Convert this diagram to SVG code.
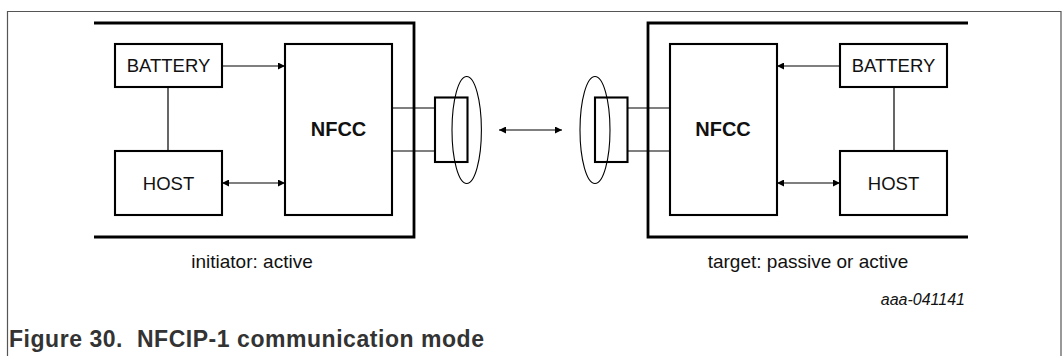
<svg xmlns="http://www.w3.org/2000/svg" width="1064" height="356" viewBox="0 0 1064 356">
<defs>
<marker id="ah" viewBox="0 0 10 10" refX="10" refY="5" markerWidth="9" markerHeight="7" markerUnits="userSpaceOnUse" orient="auto-start-reverse">
<path d="M0,0 L10,5 L0,10 z" fill="#000"/>
</marker>
<style>
.box{fill:#fff;stroke:#000;stroke-width:2.1}
.br{fill:none;stroke:#000;stroke-width:2.8}
.ln{fill:none;stroke:#000;stroke-width:1.2}
.el{fill:none;stroke:#000;stroke-width:1.1}
.t{font-family:"Liberation Sans",Arial,sans-serif;font-size:18.5px;fill:#111;text-anchor:middle}
.b{font-weight:bold;font-size:20px}
</style>
</defs>
<rect width="1064" height="356" fill="#fff"/>
<path d="M7.5,356 V11.5 H1061 V356" fill="none" stroke="#555" stroke-width="1.2"/>

<g id="initiator-device">
<path class="br" d="M94,23 H414 V237 H94"/>
</g>
<g id="target-device">
<path class="br" d="M968,23 H648 V237 H968"/>
</g>

<g id="connectors">
<line class="ln" x1="168" y1="87" x2="168" y2="151"/>
<line class="ln" x1="222" y1="66" x2="285" y2="66" marker-end="url(#ah)"/>
<line class="ln" x1="222" y1="183" x2="285" y2="183" marker-start="url(#ah)" marker-end="url(#ah)"/>
<line class="ln" x1="392" y1="108" x2="435" y2="108"/>
<line class="ln" x1="392" y1="151" x2="435" y2="151"/>
<line class="ln" x1="499" y1="130" x2="562" y2="130" marker-start="url(#ah)" marker-end="url(#ah)"/>
<line class="ln" x1="627" y1="108" x2="670" y2="108"/>
<line class="ln" x1="627" y1="151" x2="670" y2="151"/>
<line class="ln" x1="894" y1="87" x2="894" y2="151"/>
<line class="ln" x1="840" y1="66" x2="777" y2="66" marker-end="url(#ah)"/>
<line class="ln" x1="777" y1="183" x2="840" y2="183" marker-start="url(#ah)" marker-end="url(#ah)"/>
</g>

<g id="battery-left">
<rect class="box" x="115" y="44" width="107" height="43"/>
<text class="t" x="168.5" y="72">BATTERY</text>
</g>
<g id="host-left">
<rect class="box" x="115" y="151" width="107" height="64"/>
<text class="t" x="168.5" y="189.5">HOST</text>
</g>
<g id="nfcc-left">
<rect class="box" x="285" y="44" width="107" height="171"/>
<text class="t b" x="338.5" y="136">NFCC</text>
</g>
<g id="antenna-left">
<rect class="box" x="435" y="97.5" width="32.5" height="64.5" style="fill:none"/>
<ellipse class="el" cx="466.7" cy="130" rx="14.7" ry="53.5"/>
</g>

<g id="antenna-right">
<rect class="box" x="595" y="97.5" width="32.5" height="64.5" style="fill:none"/>
<ellipse class="el" cx="595" cy="130" rx="15" ry="53.5"/>
</g>
<g id="nfcc-right">
<rect class="box" x="670" y="44" width="107" height="171"/>
<text class="t b" x="723" y="136">NFCC</text>
</g>
<g id="battery-right">
<rect class="box" x="840" y="44" width="107" height="43"/>
<text class="t" x="893.5" y="72">BATTERY</text>
</g>
<g id="host-right">
<rect class="box" x="840" y="151" width="107" height="64"/>
<text class="t" x="893.5" y="189.5">HOST</text>
</g>

<g id="labels">
<text class="t" x="252" y="267.5" style="font-size:19px">initiator: active</text>
<text class="t" x="808" y="267.5" style="font-size:19px">target: passive or active</text>
<text class="t" x="965" y="304.5" style="text-anchor:end;font-style:italic;font-size:16px">aaa-041141</text>
<text x="9" y="347" xml:space="preserve" textLength="475" lengthAdjust="spacing" style="font-family:'Liberation Sans',Arial,sans-serif;font-weight:bold;font-size:23px;fill:#333">Figure 30.  NFCIP-1 communication mode</text>
</g>
</svg>
